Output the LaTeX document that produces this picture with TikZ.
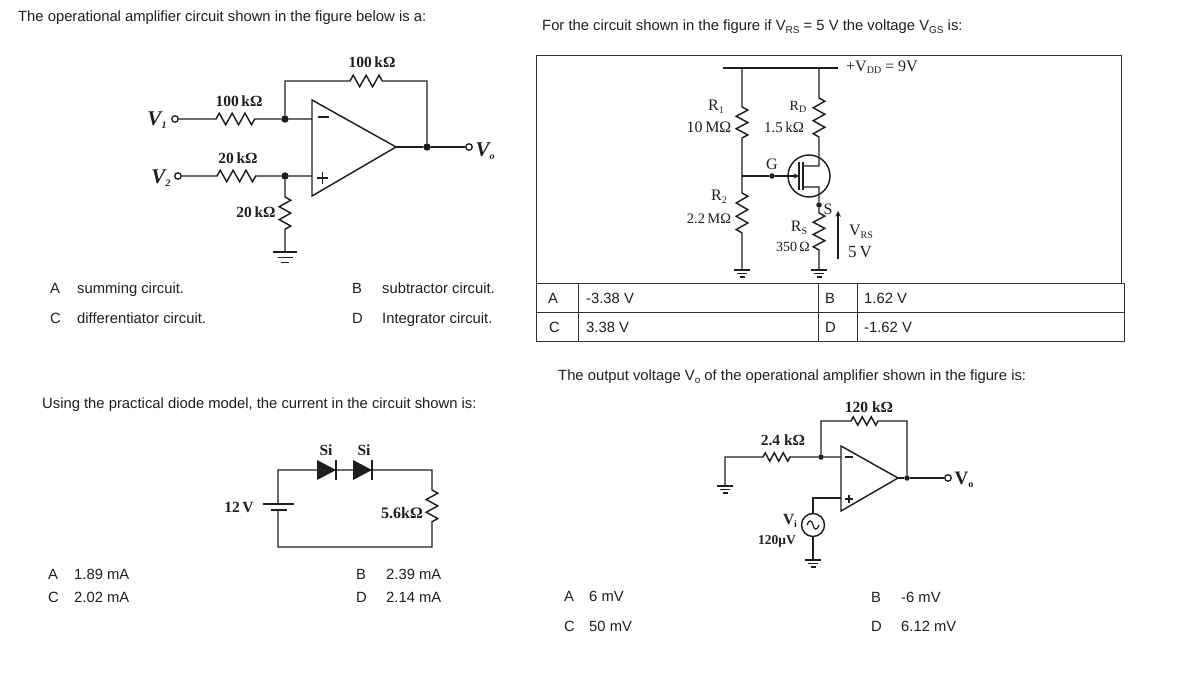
\documentclass[tikz,border=0pt]{standalone}
\usepackage{fontspec}
\setmainfont{Liberation Sans}
\newfontfamily\labelfont{Liberation Serif}
\usetikzlibrary{decorations.pathmorphing}
\newcommand{\lowtxt}[1]{\raisebox{-.35ex}{\fontsize{10}{11}\selectfont #1}}
\definecolor{inkc}{HTML}{1E1E1E}
\definecolor{framec}{HTML}{333333}
\tikzset{
  wire/.style={inkc,line width=1.45pt},
  res/.style={decoration={zigzag,segment length=#1,amplitude=5.8pt}},
  res/.default=12.9pt,
  smallres/.style={decoration={zigzag,segment length=#1,amplitude=4.2pt}},
  qtext/.style={anchor=west,yshift=-2pt,inner sep=0pt,text height=10pt,text depth=3pt,text=inkc,font=\fontsize{14.8}{16}\selectfont},
  val/.style={inner sep=0pt,text=inkc,font=\fontsize{15.5}{17}\labelfont\bfseries},
  thinval/.style={inner sep=0pt,text=inkc,font=\fontsize{16}{18}\labelfont},
  bigv/.style={inner sep=0pt,text=inkc,font=\fontsize{21}{23}\labelfont\bfseries\itshape},
  dot/.style={circle,fill=inkc,inner sep=0pt,minimum size=7.5pt},
  smalldot/.style={circle,fill=inkc,inner sep=0pt,minimum size=5.5pt},
  term/.style={circle,draw=inkc,line width=1.3pt,fill=white,inner sep=0pt,minimum size=6.5pt},
  gnd/.pic={
    \draw[wire] (-8,0) -- (8,0);
    \draw[wire] (-5,3.5) -- (5,3.5);
    \draw[wire] (-2.5,7) -- (2.5,7);
  },
  diode/.pic={
    \fill[inkc] (-9.5,-10) -- (9.5,0) -- (-9.5,10) -- cycle;
    \draw[wire] (9.5,-10) -- (9.5,10);
  }
}
\begin{document}
\begin{tikzpicture}[x=1pt,y=-1pt]
  \useasboundingbox (0,0) rectangle (1198,687);

  % questions
  \node[qtext] (q1) at (18,16) {The operational amplifier circuit shown in the figure below is a:};
  \node[qtext] (q2) at (542,25) {For the circuit shown in the figure if V\lowtxt{RS} = 5 V the voltage V\lowtxt{GS} is:};
  \node[qtext] (q3) at (42,403) {Using the practical diode model, the current in the circuit shown is:};
  \node[qtext] (q4) at (558,375) {The output voltage V\lowtxt{o} of the operational amplifier shown in the figure is:};

  % answers of q1
  \node[qtext] (a1) at (50,288) {A}; \node[qtext] (a1t) at (77,288) {summing circuit.};
  \node[qtext] (b1) at (352,288) {B}; \node[qtext] (b1t) at (382,288) {subtractor circuit.};
  \node[qtext] (c1) at (50,318) {C}; \node[qtext] (c1t) at (77,318) {differentiator circuit.};
  \node[qtext] (d1) at (352,318) {D}; \node[qtext] (d1t) at (382,318) {Integrator circuit.};

  % answers of q3
  \node[qtext] (a3) at (48,574) {A}; \node[qtext] (a3t) at (74,574) {1.89 mA};
  \node[qtext] (b3) at (356,574) {B}; \node[qtext] (b3t) at (386,574) {2.39 mA};
  \node[qtext] (c3) at (48,597) {C}; \node[qtext] (c3t) at (74,597) {2.02 mA};
  \node[qtext] (d3) at (356,597) {D}; \node[qtext] (d3t) at (386,597) {2.14 mA};

  % answers of q4
  \node[qtext] (a4) at (564,596) {A}; \node[qtext] (a4t) at (589,596) {6 mV};
  \node[qtext] (b4) at (871,597) {B}; \node[qtext] (b4t) at (901,597) {-6 mV};
  \node[qtext] (c4) at (564,626) {C}; \node[qtext] (c4t) at (589,626) {50 mV};
  \node[qtext] (d4) at (871,626) {D}; \node[qtext] (d4t) at (901,626) {6.12 mV};

  % first opamp
  \draw[wire] (312,100) coordinate (ampa) -- (396,147) coordinate (ampatip) -- (312,196) -- cycle;
  \node[dot] (inv) at (285,119) {};
  \node[dot] (noninv) at (285,176) {};
  \node[dot] (outa) at (427,147) {};
  \node[term] (v1) at (175,119) {};
  \node[term] (v2) at (178,176) {};
  \node[term] (vo) at (469,147) {};
  \coordinate (ainv) at (312,119);
  \coordinate (anon) at (312,176);
  \coordinate (gnda) at (285,252);
  \draw[wire] (v1) -- (216,119) decorate[res,decorate] {-- (255,119)} -- (inv) -- (ainv);
  \draw[wire] (v2) -- (217,176) decorate[res,decorate] {-- (256,176)} -- (noninv) -- (anon);
  \draw[wire] (inv) |- (350,81) decorate[res,decorate] {-- (388,81)} -| (outa);
  \draw[wire] (ampatip) -- (outa) -- (vo);
  \draw[wire] (noninv) -- (285,197) decorate[res,decorate] {-- (285,235)} -- (gnda);
  \pic[scale=1.5] at (gnda) {gnd};
  \draw[wire,line width=2pt] (318,117) -- (329,117);
  \draw[wire] (317,178) -- (328,178) (322.5,172.5) -- (322.5,183.5);
  \node[val] (ra) at (372,62) {100\,kΩ};
  \node[val] (rb) at (239,101) {100\,kΩ};
  \node[val] (rc) at (238,158) {20\,kΩ};
  \node[val] (rd) at (256,212) {20\,kΩ};
  \node[bigv] (v1lab) at (157,120) {V\lowtxt{1}};
  \node[bigv] (v2lab) at (161,178) {V\lowtxt{2}};
  \node[bigv] (volab) at (485,151) {V\lowtxt{o}};

  % JFET circuit
  \draw[framec,line width=1pt] (536,283) -- (536,56) -- (1121,56) -- (1121,283);
  \coordinate (rail) at (723,68);
  \coordinate (lrail) at (742,68);
  \coordinate (rrail) at (819,68);
  \coordinate (gndl) at (742,270);
  \coordinate (gndr) at (819,270);
  \node[smalldot] (gate) at (772,176) {};
  \node[smalldot] (src) at (819,205) {};
  \node[circle,draw=inkc,line width=1.45pt,inner sep=0pt,minimum size=42pt] (fet) at (809,176) {};
  \draw[wire] (rail) -- (838,68);
  \draw[wire] (lrail) -- (742,107) decorate[res=12.4pt,decorate] {-- (742,144)} -- (742,193) decorate[res=13.3pt,decorate] {-- (742,233)} -- (gndl);
  \draw[wire] (rrail) -- (819,98) decorate[res=13pt,decorate] {-- (819,137)} -- (819,166) -- (803,166);
  \draw[wire] (803,187) -- (819,187) -- (src) -- (819,213) decorate[res=12.3pt,decorate] {-- (819,250)} -- (gndr);
  \draw[wire] (742,176) -- (gate);
  \draw[wire,-stealth] (gate) -- (799,176);
  \draw[wire] (799,162) -- (799,190);
  \draw[wire,line width=2pt] (803,162) -- (803,190);
  \pic at (gndl) {gnd};
  \pic at (gndr) {gnd};
  \draw[inkc,line width=1.5pt,-stealth] (838,259) -- (838,211);
  \node[thinval] (r1lab) at (716,107) {R\lowtxt{1}};
  \node[thinval] (r1val) at (709,127) {10\,MΩ};
  \node[thinval,font=\fontsize{14}{15}\labelfont] (rdlab) at (798,107) {R\lowtxt{D}};
  \node[thinval,font=\fontsize{15}{15}\labelfont] (rdval) at (784,127) {1.5\,kΩ};
  \node[thinval] (glab) at (772,164) {G};
  \node[thinval] (r2lab) at (719,197) {R\lowtxt{2}};
  \node[thinval,font=\fontsize{14.5}{15}\labelfont] (r2val) at (709,219) {2.2\,MΩ};
  \node[thinval] (rslab) at (799,228) {R\lowtxt{S}};
  \node[thinval,font=\fontsize{14}{15}\labelfont] (rsval) at (793,247) {350\,Ω};
  \node[thinval] (slab) at (828,209) {S};
  \node[thinval] (vrslab) at (861,232) {V\lowtxt{RS}};
  \node[thinval,font=\fontsize{17}{18}\labelfont] (vrsval) at (860,252) {5\,V};
  \node[thinval] (vddlab) at (882,67) {+V\lowtxt{DD} = 9V};

  % answer table
  \draw[framec,line width=1pt,fill=white] (536,283) rectangle (1124,341);
  \draw[framec,line width=1pt] (536,312) -- (1124,312);
  \draw[framec,line width=1pt] (578,283) -- (578,341) (818,283) -- (818,341) (857,283) -- (857,341);
  \node[qtext] (a2) at (548,298) {A}; \node[qtext] (a2t) at (586,298) {-3.38 V};
  \node[qtext] (b2) at (825,298) {B}; \node[qtext] (b2t) at (864,298) {1.62 V};
  \node[qtext] (c2) at (549,327) {C}; \node[qtext] (c2t) at (586,327) {3.38 V};
  \node[qtext] (d2) at (825,327) {D}; \node[qtext] (d2t) at (864,327) {-1.62 V};

  % diode loop
  \coordinate (dia) at (326.5,470);
  \coordinate (dib) at (362.5,470);
  \coordinate (bata) at (278,504);
  \coordinate (batb) at (278,510);
  \draw[wire] (bata) |- (dia) -- (dib) -- (432,470) -- (432,490) decorate[res=12.7pt,decorate] {-- (432,528)} |- (278,547) -- (batb);
  \draw[wire] (263,504) -- (294,504);
  \draw[wire] (271,510) -- (287,510);
  \pic at (dia) {diode};
  \pic at (dib) {diode};
  \node[val] (si1) at (326,450) {Si};
  \node[val] (si2) at (364,450) {Si};
  \node[val] (batv) at (239,507) {12\,V};
  \node[val,font=\fontsize{16}{18}\labelfont\bfseries] (r56) at (402,513) {5.6kΩ};

  % second opamp
  \draw[wire] (841,446) -- (898,478) coordinate (ampbtip) -- (841,511) -- cycle;
  \node[smalldot] (invb) at (821,457) {};
  \node[smalldot] (outb) at (907,478) {};
  \node[term] (vob) at (948,478) {};
  \node[circle,draw=inkc,line width=1.45pt,inner sep=0pt,minimum size=23pt] (srcb) at (813,525) {};
  \coordinate (gndc) at (725,486);
  \coordinate (gndd) at (813,560);
  \draw[wire] (gndc) |- (763,457) decorate[smallres=9pt,decorate] {-- (790,457)} -- (invb) -- (841,457);
  \draw[wire] (invb) |- (851,421) decorate[smallres=9pt,decorate] {-- (878,421)} -| (outb);
  \draw[wire] (ampbtip) -- (outb) -- (vob);
  \draw[wire] (841,498) -| (srcb);
  \draw[wire] (srcb) -- (gndd);
  \draw[inkc,line width=1.2pt] (807,525) .. controls (809,519) and (812,520) .. (813,525) .. controls (814,530) and (817,531) .. (819,525);
  \pic at (gndc) {gnd};
  \pic at (gndd) {gnd};
  \draw[wire,line width=2pt] (845,457) -- (853,457);
  \draw[wire] (845,499) -- (853,499) (849,495) -- (849,503);
  \node[val] (rfb) at (869,407) {120 kΩ};
  \node[val] (rib) at (783,440) {2.4 kΩ};
  \node[val] (vilab) at (790,521) {V\lowtxt{i}};
  \node[val,font=\fontsize{13.5}{15}\labelfont\bfseries] (vival) at (777,541) {120μV};
  \node[val,font=\fontsize{19}{21}\labelfont\bfseries] (voblab) at (964,480) {V\lowtxt{o}};
\end{tikzpicture}
\end{document}
